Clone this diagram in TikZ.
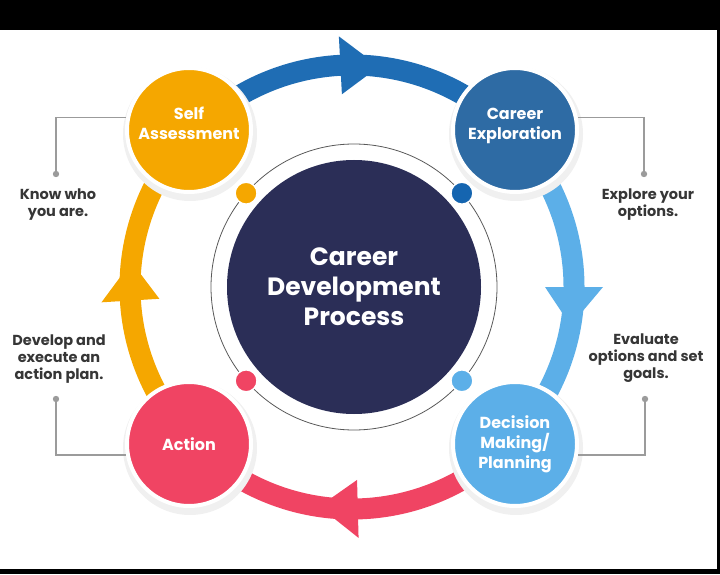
\documentclass[tikz,border=0pt]{standalone}
\usepackage{fontspec}
\setmainfont{Poppins}
\definecolor{cdyellow}{HTML}{F5A700}
\definecolor{cdblue}{HTML}{2E6BA4}
\definecolor{cdarc}{HTML}{1F6DB4}
\definecolor{cddot}{HTML}{1565B0}
\definecolor{cdsky}{HTML}{5CAFE8}
\definecolor{cdpink}{HTML}{F04463}
\definecolor{cdnavy}{HTML}{2B2E57}
\definecolor{cdgray}{HTML}{9B9B9B}
\definecolor{cdtext}{HTML}{363636}
\usetikzlibrary{arrows.meta,positioning}

\begin{document}
\begin{tikzpicture}[x=1pt,y=1pt,
  stage/.style={circle,minimum size=124pt,inner sep=0pt,draw=white,line width=4pt,
    text=white,font=\bfseries\fontsize{16}{20}\selectfont,align=center},
  note/.style={text=cdtext,font=\bfseries\fontsize{14.5}{17}\selectfont,align=center},
  lead/.style={cdgray,line width=1.3pt}]
  \useasboundingbox (0,0) rectangle (720,574);
  % black frame of the screenshot
  \fill[black] (0,544) rectangle (720,574);
  \fill[black] (0,0) rectangle (720,5);
  \fill[black] (717,0) rectangle (720,574);
  % the cycle: four bands with arrow heads
  \begin{scope}[shift={(352,287)}]
    \draw[cdarc,line width=21pt] (137:222) arc[start angle=137,end angle=43,radius=222];
    \draw[cdsky,line width=21pt] (47:222) arc[start angle=47,end angle=-47,radius=222];
    \draw[cdpink,line width=21pt] (-43:222) arc[start angle=-43,end angle=-137,radius=222];
    \draw[cdyellow,line width=21pt] (-133:222) arc[start angle=-133,end angle=-227,radius=222];
    \fill[cdarc] (93:251) -- (83:222) -- (93:193) -- cycle;
    \fill[cdsky] (0:251) -- (-10:222) -- (0:193) -- cycle;
    \fill[cdpink] (271.5:251) -- (261.5:222) -- (271.5:193) -- cycle;
    \fill[cdyellow] (183.5:251) -- (173.5:222) -- (183.5:193) -- cycle;
  \end{scope}
  % soft shadows under the stages
  \foreach \x/\y in {189/444,515/444,189/130,515/130}
    \fill[black!6] (\x+1,\y-4) circle (67);
  % stages
  \node[stage,fill=cdyellow] (self) at (189,444) {Self\\Assessment\\[-6pt]\mbox{}};
  \node[stage,fill=cdblue] (career) at (515,444) {Career\\Exploration\\[-8pt]\mbox{}};
  \node[stage,fill=cdsky] (decision) at (515,130) {Decision\\Making/\\Planning};
  \node[stage,fill=cdpink] (action) at (189,130) {Action};
  % centre
  \node[circle,fill=cdnavy,minimum size=254pt,inner sep=0pt,text=white,align=center,
    font=\bfseries\fontsize{25}{30}\selectfont] (core) at (354,287) {Career\\Development\\Process};
  \draw[black!65,line width=0.8pt] (core.center) circle (143);
  \foreach \a/\c in {139/cdyellow,41/cddot,221/cdpink,319/cdsky}
    \filldraw[fill=\c,draw=white,line width=1.5pt] ([shift={(\a:143)}]core.center) circle (11);
  % notes and their leads
  \coordinate (knowdot) at (56,400);
  \coordinate (exploredot) at (644,400);
  \coordinate (plandot) at (56,175);
  \coordinate (goaldot) at (645,175);
  \draw[lead] (self.169) -| (knowdot);
  \draw[lead] (career.11) -| (exploredot);
  \draw[lead] (action.190) -| (plandot);
  \draw[lead] (decision.350) -| (goaldot);
  \foreach \d in {knowdot,exploredot,plandot,goaldot} \fill[cdgray] (\d) circle (3.2);
  \node[note] (know) at (58,369) {Know who\\you are.};
  \node[note] (explore) at (648,369) {Explore your\\options.};
  \node[note] (plan) at (59,215) {Develop and\\execute an\\action plan.};
  \node[note] (goal) at (646,216) {Evaluate\\options and set\\goals.};
\end{tikzpicture}
\end{document}
